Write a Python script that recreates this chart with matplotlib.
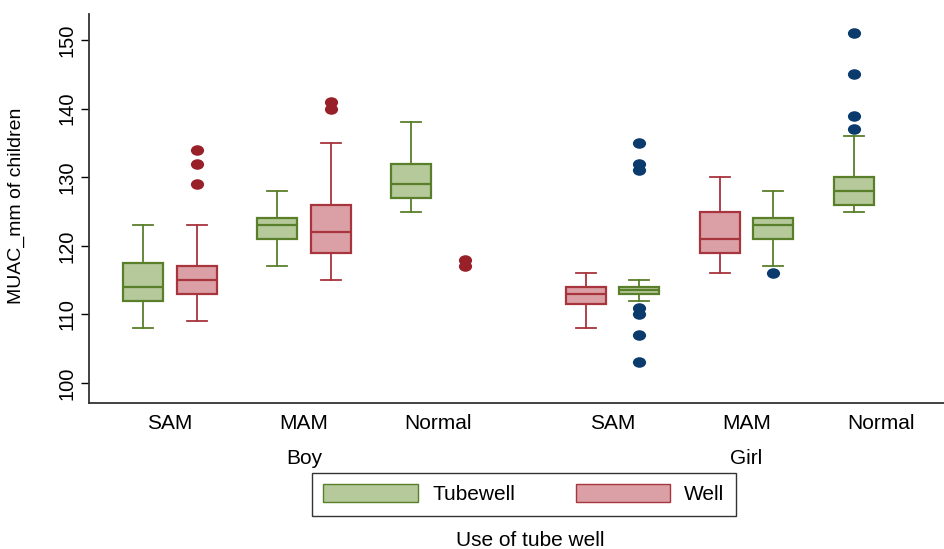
import matplotlib
matplotlib.use("Agg")
import matplotlib.pyplot as plt
from matplotlib.patches import Patch
from matplotlib.path import Path
from matplotlib.transforms import Affine2D

plt.rcParams['font.family'] = ['Liberation Sans', 'DejaVu Sans']

# categories
levels = ["SAM", "MAM", "Normal", "SAM", "MAM", "Normal"]
sexes = ["Boy", "Girl"]

# box stats per category: whislo, q1, med, q3, whishi
tube_box = [[108, 112, 114, 117.5, 123],
            [117, 121, 123, 124, 128],
            [125, 127, 129, 132, 138],
            [112, 113, 113.5, 114, 115],
            [117, 121, 123, 124, 128],
            [125, 126, 128, 130, 136]]
tube_out = [[], [], [],
            [135, 132, 131, 111, 110, 107, 103],
            [116],
            [151, 145, 139, 137]]
well_box = [[109, 113, 115, 117, 123],
            [115, 119, 122, 126, 135],
            None,
            [108, 111.5, 113, 114, 116],
            [116, 119, 121, 125, 130],
            None]
well_out = [[134, 132, 129], [141, 140], [118, 117], [], [], []]

# layout
centers = [0, 1, 2, 3.3, 4.3, 5.3]
tube_side = [-1, -1, -1, 1, 1, -1]
off = 0.2
width = 0.3

green_fill, green_edge = "#b5c99a", "#5a7f2b"
red_fill, red_edge = "#dba0a6", "#a8343e"
red_dot, navy_dot = "#982029", "#0b3b6c"

ell = Path.unit_circle().transformed(Affine2D().scale(1.25, 1.0))

fig = plt.figure(figsize=(9.45, 5.49), dpi=100)
ax = fig.add_axes([0.094, 0.266, 0.906, 0.7085])


def draw(stats, fliers, pos, fill, edge, dot):
    if stats is None:
        if fliers:
            ax.plot([pos] * len(fliers), fliers, linestyle="none", marker=ell,
                    markersize=9.5, color=dot, markeredgewidth=0)
        return
    lo, q1, med, q3, hi = stats
    st = [dict(whislo=lo, q1=q1, med=med, q3=q3, whishi=hi, fliers=fliers)]
    ax.bxp(st, positions=[pos], widths=width, capwidths=width / 2,
           patch_artist=True, showfliers=True, manage_ticks=False,
           boxprops=dict(facecolor=fill, edgecolor=edge, linewidth=1.6),
           medianprops=dict(color=edge, linewidth=1.6),
           whiskerprops=dict(color=edge, linewidth=1.3),
           capprops=dict(color=edge, linewidth=1.3),
           flierprops=dict(marker=ell, markersize=9.5, markerfacecolor=dot,
                           markeredgewidth=0, linestyle="none"))


for i, c in enumerate(centers):
    dot = red_dot if i < 3 else navy_dot
    draw(tube_box[i], tube_out[i], c + tube_side[i] * off, green_fill, green_edge, dot)
    draw(well_box[i], well_out[i], c - tube_side[i] * off, red_fill, red_edge, dot)

ax.set_xlim(-0.605, 5.78)
ax.set_ylim(97.1, 153.8)
ax.set_yticks([100, 110, 120, 130, 140, 150])
ax.tick_params(axis="y", labelsize=14.5, rotation=90, length=6, width=1, pad=3)
for t in ax.get_yticklabels():
    t.set_va("center")
ax.set_xticks(centers)
ax.set_xticklabels(levels, fontsize=15)
ax.tick_params(axis="x", length=0, pad=8)
for s in ["top", "right"]:
    ax.spines[s].set_visible(False)
for s in ["left", "bottom"]:
    ax.spines[s].set_color("#333333")
    ax.spines[s].set_linewidth(1.3)

ax.set_ylabel("MUAC_mm of children", fontsize=14)
ax.yaxis.set_label_coords(-0.074, 0.506)

tr = ax.get_xaxis_transform()
ax.text(1, -0.143, sexes[0], transform=tr, ha="center", va="center", fontsize=15)
ax.text(4.3, -0.143, sexes[1], transform=tr, ha="center", va="center", fontsize=15)

handles = [Patch(facecolor=green_fill, edgecolor=green_edge, label="Tubewell"),
           Patch(facecolor=red_fill, edgecolor=red_edge, label="Well")]
leg = fig.legend(handles=handles, loc="center", bbox_to_anchor=(0.5545, 0.1),
                 ncol=2, fontsize=15, frameon=True, fancybox=False,
                 handlelength=4.55, handleheight=0.96, columnspacing=2.9,
                 borderpad=0.55, handletextpad=0.67, borderaxespad=0)
leg.get_frame().set_edgecolor("black")
leg.get_frame().set_linewidth(1.0)

fig.text(0.5615, 0.015, "Use of tube well", ha="center", va="center", fontsize=15)

fig.savefig("out.png", dpi=100, facecolor="white")
